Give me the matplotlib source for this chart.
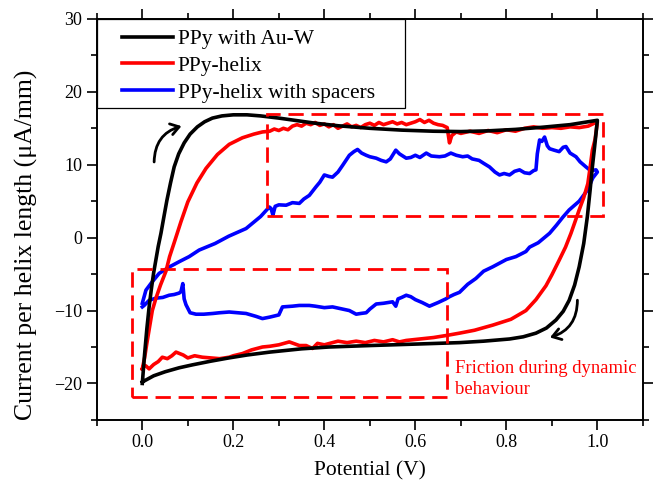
import matplotlib
matplotlib.use("Agg")
import matplotlib.pyplot as plt
from matplotlib.patches import Rectangle
from matplotlib.ticker import MultipleLocator

plt.rcParams['font.family'] = ['Liberation Serif', 'DejaVu Serif']

# PPy with Au-W (forward sweep then reverse sweep)
au_x = [0.0, 0.005, 0.01, 0.015, 0.02, 0.025, 0.03, 0.035, 0.041, 0.047, 0.054, 0.062, 0.07, 0.08,
        0.092, 0.105, 0.121, 0.137, 0.154, 0.175, 0.2, 0.23, 0.26, 0.30, 0.34, 0.38, 0.43, 0.5, 0.57,
        0.64, 0.7, 0.76, 0.82, 0.88, 0.94, 1.0,
        0.994, 0.989, 0.984, 0.978, 0.970, 0.960, 0.950, 0.938, 0.925, 0.909, 0.888, 0.865, 0.837,
        0.807, 0.75, 0.697, 0.6, 0.5, 0.41, 0.35, 0.28, 0.23, 0.19, 0.15, 0.11, 0.081, 0.05, 0.025, 0.0]
au_y = [-20.0, -16.0, -12.5, -9.5, -7.0, -4.8, -3.0, -1.2, 0.6, 2.7, 5.1, 7.5, 9.7, 11.5,
        13.0, 14.2, 15.2, 15.9, 16.4, 16.7, 16.85, 16.85, 16.7, 16.4, 16.05, 15.7, 15.35, 15.0, 14.75,
        14.6, 14.55, 14.65, 14.85, 15.15, 15.5, 16.1,
        12.5, 9.7, 6.5, 2.9, -0.8, -4.0, -6.5, -8.6, -10.1, -11.3, -12.4, -13.1, -13.6,
        -13.9, -14.2, -14.4, -14.6, -14.8, -15.0, -15.25, -15.7, -16.1, -16.5, -16.95, -17.45, -17.85,
        -18.4, -18.95, -19.8]

# PPy-helix
helix_x = [0.0, 0.005, 0.01, 0.015, 0.022, 0.03, 0.04, 0.052, 0.06, 0.07, 0.085, 0.10, 0.12, 0.14,
           0.165, 0.191, 0.22, 0.245, 0.264, 0.28, 0.29, 0.30, 0.31, 0.32, 0.33, 0.34, 0.35, 0.36,
           0.37, 0.38, 0.39, 0.40, 0.41, 0.42, 0.43, 0.44, 0.45, 0.46, 0.47, 0.48, 0.49, 0.50, 0.51,
           0.52, 0.53, 0.54, 0.55, 0.56, 0.57, 0.58, 0.59, 0.60, 0.61, 0.62, 0.63, 0.64, 0.65, 0.66,
           0.67, 0.675, 0.68, 0.69, 0.70, 0.72, 0.74, 0.76, 0.78, 0.80, 0.82, 0.84, 0.86, 0.88, 0.90,
           0.92, 0.94, 0.96, 0.98, 1.0,
           0.995, 0.989, 0.984, 0.979, 0.970, 0.960, 0.951, 0.942, 0.93, 0.916, 0.9, 0.887, 0.865,
           0.843, 0.81, 0.77, 0.73, 0.697, 0.67, 0.64, 0.61, 0.58, 0.565, 0.55, 0.53, 0.51, 0.49,
           0.47, 0.45, 0.43, 0.418, 0.40, 0.385, 0.374, 0.36, 0.345, 0.323, 0.30, 0.28, 0.264, 0.24,
           0.22, 0.2, 0.191, 0.17, 0.15, 0.132, 0.115, 0.10, 0.09, 0.074, 0.065, 0.055, 0.044, 0.035,
           0.025, 0.015, 0.008, 0.004, 0.0]
helix_y = [-18.0, -16.5, -14.5, -12.6, -10.0, -8.3, -6.5, -4.6, -2.6, -0.7, 2.2, 4.9, 7.5, 9.5,
           11.4, 12.8, 13.7, 14.2, 14.5, 14.6, 14.9, 14.7, 15.0, 14.8, 15.3, 15.5, 15.3, 15.7,
           15.5, 15.8, 15.4, 15.6, 15.2, 15.5, 15.0, 15.3, 15.6, 15.2, 15.4, 15.1, 15.5, 15.7, 15.4,
           15.8, 15.5, 15.7, 15.9, 15.6, 15.8, 15.5, 15.7, 15.9, 16.2, 15.8, 16.1, 15.7, 15.5, 15.4,
           15.1, 13.0, 14.0, 14.5, 14.3, 14.6, 14.3, 14.7, 14.4, 14.8, 14.6, 15.0, 15.2, 15.0, 15.1,
           15.0, 15.2, 15.1, 15.3, 15.9,
           13.5, 12.0, 9.6, 7.4, 5.5, 3.8, 2.2, 0.6, -1.3, -3.1, -5.1, -6.6, -8.5,
           -10.0, -11.2, -12.0, -12.7, -13.1, -13.4, -13.7, -13.9, -14.1, -14.3, -14.0, -14.3, -14.1,
           -14.4, -14.2, -14.4, -14.2, -14.4, -14.7, -14.5, -15.2, -14.8, -14.8, -14.3, -14.7, -14.9,
           -15.0, -15.4, -15.9, -16.2, -16.4, -16.6, -16.5, -16.4, -16.2, -16.5, -16.1, -15.7, -16.2,
           -16.6, -16.4, -17.0, -17.4, -18.0, -17.6, -17.5, -18.0]

# PPy-helix with spacers
spacer_x = [0.0, 0.008, 0.02, 0.037, 0.06, 0.081, 0.103, 0.125, 0.16, 0.19, 0.228, 0.26, 0.279,
            0.283, 0.287, 0.292, 0.30, 0.316, 0.33, 0.345, 0.355, 0.367, 0.382, 0.39, 0.40, 0.41,
            0.418, 0.43, 0.44, 0.455, 0.465, 0.473, 0.482, 0.492, 0.5, 0.514, 0.525, 0.536, 0.545,
            0.557, 0.565, 0.58, 0.59, 0.60, 0.61, 0.624, 0.635, 0.653, 0.665, 0.678, 0.69, 0.704,
            0.715, 0.725, 0.74, 0.75, 0.763, 0.775, 0.785, 0.795, 0.807, 0.818, 0.829, 0.84, 0.851,
            0.86, 0.865, 0.868, 0.873, 0.878, 0.884, 0.89, 0.895, 0.905, 0.916, 0.925, 0.931, 0.94,
            0.953, 0.962, 0.975, 0.985, 0.997, 1.0,
            0.99, 0.978, 0.96, 0.938, 0.924, 0.91, 0.895, 0.87, 0.851, 0.843, 0.821, 0.80, 0.785,
            0.77, 0.75, 0.733, 0.715, 0.697, 0.685, 0.675, 0.667, 0.65, 0.631, 0.615, 0.60, 0.59,
            0.58, 0.57, 0.562, 0.557, 0.55, 0.53, 0.514, 0.50, 0.492, 0.48, 0.47, 0.455, 0.44, 0.418,
            0.40, 0.38, 0.367, 0.345, 0.33, 0.308, 0.30, 0.28, 0.264, 0.25, 0.228, 0.21, 0.191, 0.17,
            0.155, 0.135, 0.118, 0.105, 0.096, 0.092, 0.089, 0.085, 0.081, 0.07, 0.059, 0.045, 0.03,
            0.015, 0.004, 0.0]
spacer_y = [-9.0, -7.2, -6.2, -4.9, -4.0, -3.3, -2.6, -1.7, -0.8, 0.2, 1.25, 2.9, 4.2,
            4.0, 3.1, 4.3, 4.5, 4.45, 4.8, 4.7, 5.3, 5.8, 7.0, 7.6, 8.6, 8.4,
            8.3, 9.0, 9.9, 11.3, 11.8, 12.1, 11.6, 11.3, 11.1, 10.9, 10.6, 10.4, 10.8,
            12.0, 11.5, 10.9, 11.0, 11.3, 11.0, 11.6, 11.2, 11.1, 11.2, 11.6, 11.3, 11.1,
            11.2, 10.8, 10.6, 10.2, 9.7, 9.0, 8.6, 8.8, 8.6, 9.1, 9.3, 8.9, 8.8,
            9.2, 9.3, 11.5, 13.4, 13.2, 13.8, 12.6, 12.2, 12.0, 11.8, 12.4, 12.5, 11.6,
            11.1, 10.4, 9.7, 9.2, 9.3, 9.0,
            8.2, 6.5, 5.0, 3.8, 2.8, 1.7, 0.6, -0.7, -1.3, -1.9, -2.6, -3.0, -3.5,
            -4.0, -4.6, -5.6, -6.4, -7.5, -7.8, -8.1, -8.4, -8.9, -9.4, -8.9, -8.5, -8.1,
            -7.9, -8.2, -8.4, -9.4, -8.8, -9.0, -9.1, -9.8, -10.3, -10.4, -10.5, -10.0, -9.8, -9.5,
            -9.6, -9.4, -9.3, -9.3, -9.4, -9.5, -10.6, -10.9, -11.1, -10.8, -10.4, -10.3, -10.2, -10.3,
            -10.4, -10.5, -10.5, -10.3, -9.2, -8.4, -6.3, -7.4, -7.6, -7.8, -7.9, -8.2, -8.3,
            -8.6, -9.3, -9.5]

# dashed boxes: (x0, y0, x1, y1)
box_top = (0.275, 3.0, 1.013, 17.0)
box_bottom = (-0.022, -21.8, 0.67, -4.3)

fig = plt.figure(figsize=(6.54, 4.86), dpi=100)
ax = fig.add_axes([0.148, 0.136, 0.835, 0.825])

ax.plot(spacer_x, spacer_y, color='#0000ff', lw=2.6, label='PPy-helix with spacers')
ax.plot(helix_x, helix_y, color='#ff0000', lw=2.6, label='PPy-helix')
ax.plot(au_x, au_y, color='black', lw=2.6, label='PPy with Au-W')

for x0, y0, x1, y1 in (box_top, box_bottom):
    ax.add_patch(Rectangle((x0, y0), x1 - x0, y1 - y0, fill=False, edgecolor='#ff0000',
                           lw=2.0, ls=(0, (5.5, 2.8)), zorder=4))

ax.text(0.688, -19.45, 'Friction during dynamic\nbehaviour', color='#ff0000', fontsize=13.4,
        va='center', ha='left', linespacing=1.3)

ax.annotate('', xy=(0.092, 15.4), xytext=(0.026, 10.0),
            arrowprops=dict(arrowstyle='->,head_length=0.6,head_width=0.4', lw=2,
                            color='black', connectionstyle='arc3,rad=-0.4'))
ax.annotate('', xy=(0.89, -13.8), xytext=(0.956, -8.2),
            arrowprops=dict(arrowstyle='->,head_length=0.6,head_width=0.4', lw=2,
                            color='black', connectionstyle='arc3,rad=-0.4'))

ax.set_xlim(-0.1, 1.1)
ax.set_ylim(-25, 30)
ax.set_xticks([0.0, 0.2, 0.4, 0.6, 0.8, 1.0])
ax.set_yticks([-20, -10, 0, 10, 20, 30])
ax.xaxis.set_minor_locator(MultipleLocator(0.1))
ax.yaxis.set_minor_locator(MultipleLocator(5))
ax.tick_params(which='both', direction='out', top=True, right=True, width=1.2, labelsize=13)
ax.tick_params(which='major', length=7)
ax.tick_params(which='minor', length=4)
for s in ax.spines.values():
    s.set_linewidth(1.4)

ax.set_xlabel('Potential (V)', fontsize=15.5, labelpad=7)
ax.set_ylabel('Current per helix length (μA/mm)', fontsize=18.5)
ax.yaxis.set_label_coords(-0.107, 0.436)

# legend frame drawn separately so the horizontal padding can be wider than the vertical one
ax.add_patch(Rectangle((0, 0.778), 0.564, 0.222, transform=ax.transAxes, facecolor='white',
                       edgecolor='black', lw=0.9, zorder=5, clip_on=False))
handles, labels = ax.get_legend_handles_labels()
leg = ax.legend(handles[::-1], labels[::-1], loc='upper left', bbox_to_anchor=(0.046, 0.975),
                borderaxespad=0, borderpad=0, frameon=False, fontsize=15.5,
                handlelength=2.37, handletextpad=0.23, labelspacing=0.32)
leg.set_zorder(6)

fig.savefig('out.png', dpi=100)
